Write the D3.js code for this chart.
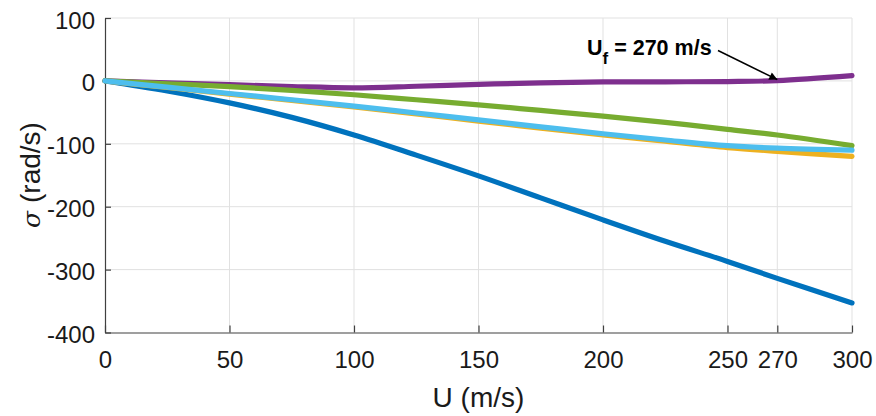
<!DOCTYPE html>
<html>
<head>
<meta charset="utf-8">
<script src="https://cdn.jsdelivr.net/npm/d3@7"></script>
<style>
  body { margin: 0; background: #fff; }
  svg { display: block; font-family: "Liberation Sans", Arial, sans-serif; }
</style>
</head>
<body>
<div id="chart"></div>
<script>
// speeds (m/s)
const speeds = [0, 25, 50, 75, 100, 125, 150, 175, 200, 225, 250, 270, 300];
// growth rates sigma (rad/s) per mode
const modeBlue   = [0, -16, -35, -58, -86, -118, -151, -186, -221, -255, -287, -314, -353];
const modeYellow = [0, -10.5, -21, -31, -41.5, -52.5, -64, -75, -86, -96, -106, -112, -120];
const modePurple = [0, -3, -6, -9, -11, -8.5, -5.5, -3, -1.6, -1.4, -1, 0.5, 8.4];
const modeGreen  = [0, -4.5, -9, -15, -22, -30, -38, -47, -56, -66, -77, -86, -103];
const modeCyan   = [0, -10, -20, -30, -40, -51, -62, -73, -84, -94, -103, -107, -110];

const xTicks = [0, 50, 100, 150, 200, 250, 270, 300];
const yTicks = [-400, -300, -200, -100, 0, 100];
const flutterSpeed = 270;

const W = 876, H = 416;
const plot = { left: 105, right: 852, top: 18, bottom: 332.5 };

const svg = d3.select('#chart').append('svg')
  .attr('width', W).attr('height', H);

const x = d3.scaleLinear().domain([0, 300]).range([plot.left, plot.right]);
const y = d3.scaleLinear().domain([-400, 100]).range([plot.bottom, plot.top]);

// grid
const grid = svg.append('g').attr('stroke', '#e1e1e1').attr('stroke-width', 1);
grid.selectAll('.gx').data(xTicks.filter(d => d > 0)).enter().append('line')
  .attr('x1', d => x(d)).attr('x2', d => x(d))
  .attr('y1', plot.top).attr('y2', plot.bottom);
grid.selectAll('.gy').data(yTicks.filter(d => d > -400)).enter().append('line')
  .attr('x1', plot.left).attr('x2', plot.right)
  .attr('y1', d => y(d)).attr('y2', d => y(d));

// axes (plain hyphen minus like the original)
const fmt = d => String(d);
const xAxis = d3.axisBottom(x).tickValues(xTicks).tickFormat(fmt)
  .tickSizeInner(-7).tickSizeOuter(0).tickPadding(18.5);
const yAxis = d3.axisLeft(y).tickValues(yTicks).tickFormat(fmt)
  .tickSizeInner(-6).tickSizeOuter(0).tickPadding(10);

const gx = svg.append('g').attr('transform', 'translate(0,' + plot.bottom + ')').call(xAxis);
const gy = svg.append('g').attr('transform', 'translate(' + plot.left + ',0)').call(yAxis);
[gx, gy].forEach(g => {
  g.select('.domain').attr('stroke', '#404040').attr('stroke-width', 1.2);
  g.selectAll('.tick line').attr('stroke', '#404040').attr('stroke-width', 1.2);
  g.selectAll('.tick text').attr('fill', '#1a1a1a').style('font-size', '24px')
    .style('font-family', '"Liberation Sans", Arial, sans-serif');
});
gy.selectAll('.tick text').attr('dy', '0.42em');

// lines
const line = d3.line()
  .x((d, i) => x(speeds[i]))
  .y(d => y(d))
  .curve(d3.curveCatmullRom.alpha(0.5));

const series = [
  { values: modeBlue,   color: '#0072BD' },
  { values: modeYellow, color: '#EDB120' },
  { values: modePurple, color: '#7E2F8E' },
  { values: modeGreen,  color: '#77AC30' },
  { values: modeCyan,   color: '#4DBEEE' }
];

svg.append('g').selectAll('path').data(series).enter().append('path')
  .attr('d', d => line(d.values))
  .attr('fill', 'none')
  .attr('stroke', d => d.color)
  .attr('stroke-width', 5.2)
  .attr('stroke-linecap', 'round')
  .attr('stroke-linejoin', 'round');

// axis labels
svg.append('text')
  .attr('x', (plot.left + plot.right) / 2).attr('y', 407)
  .attr('text-anchor', 'middle')
  .style('font-size', '28px').attr('fill', '#1a1a1a')
  .text('U (m/s)');

const yl = svg.append('text')
  .attr('transform', 'translate(40,' + 175 + ') rotate(-90)')
  .attr('text-anchor', 'middle')
  .style('font-size', '28px').attr('fill', '#1a1a1a');
yl.append('tspan').style('font-style', 'italic').style('font-size', '25px')
  .style('font-family', '"DejaVu Serif", serif').text('σ');
yl.append('tspan').text(' (rad/s)');

// annotation
const purpleAt270 = modePurple[speeds.indexOf(flutterSpeed)];
svg.append('defs').append('marker')
  .attr('id', 'arrow').attr('viewBox', '0 0 10 10')
  .attr('refX', 10).attr('refY', 5)
  .attr('markerWidth', 11).attr('markerHeight', 8)
  .attr('markerUnits', 'userSpaceOnUse')
  .attr('orient', 'auto')
  .append('path').attr('d', 'M0,0 L10,5 L0,10 z').attr('fill', '#000');

svg.append('line')
  .attr('x1', 718).attr('y1', 50.5)
  .attr('x2', x(flutterSpeed)).attr('y2', y(purpleAt270) - 1)
  .attr('stroke', '#000').attr('stroke-width', 1.5)
  .attr('marker-end', 'url(#arrow)');

const ann = svg.append('text')
  .attr('x', 587).attr('y', 55)
  .style('font-size', '21.5px').style('font-weight', 'bold').attr('fill', '#000');
ann.append('tspan').text('U');
ann.append('tspan').attr('dy', 9).style('font-size', '17px').text('f');
ann.append('tspan').attr('dy', -9).text(' = 270 m/s');
</script>
</body>
</html>
